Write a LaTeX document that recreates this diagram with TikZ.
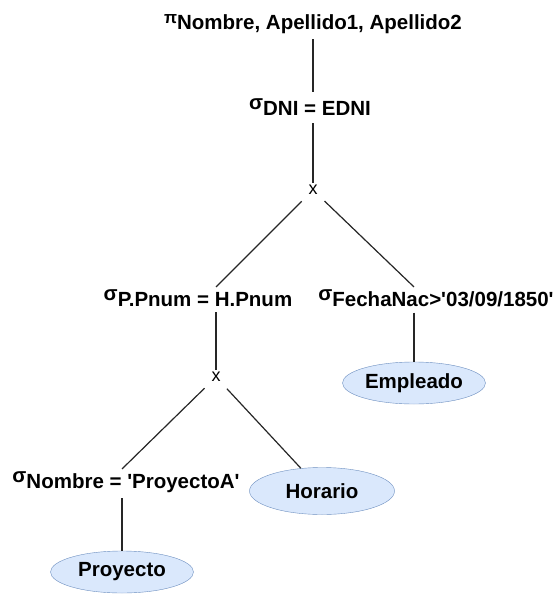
\documentclass[tikz,border=0pt]{standalone}
\usepackage{fontspec}
\setmainfont{Liberation Sans}
\usepackage{tikz}
\usetikzlibrary{positioning, calc, shapes.geometric}
\definecolor{relfill}{HTML}{DAE8FC}
\definecolor{relline}{HTML}{6C8EBF}
\newcommand{\sel}[1]{\raisebox{6pt}{σ}#1}
\newcommand{\prj}[1]{\raisebox{6pt}{\fontsize{17}{17}\selectfont π}#1}

\begin{document}
\begin{tikzpicture}[
    x=1pt, y=-1pt,
    every node/.style={font=\fontsize{20.5}{24}\selectfont\bfseries, inner sep=2pt, anchor=base},
    rel/.style={draw=relline, fill=relfill, ellipse, anchor=center, inner sep=0pt, minimum width=143pt, minimum height=42pt},
    cross/.style={font=\fontsize{18}{20}\selectfont, anchor=center},
    edge/.style={line width=1.2pt, draw=black!85}
]
\useasboundingbox (0,0) rectangle (557,594);
\node (proj) at (313,30) {\prj{Nombre, Apellido1, Apellido2}};
\node (seldni) at (310,115) {\sel{DNI = EDNI}};
\node[cross] (prodtop) at (313,190) {x};
\node (selpnum) at (198,306) {\sel{P.Pnum = H.Pnum}};
\node (selfecha) at (436,306) {\sel{FechaNac>\textquotesingle03/09/1850\textquotesingle}};
\node[cross] (prodlow) at (216,377) {x};
\node[rel] (emp) at (414,383) {Empleado};
\node (selnombre) at (126,488) {\sel{Nombre = \textquotesingle ProyectoA\textquotesingle}};
\node[rel, minimum width=145pt, minimum height=47pt] (horario) at (322,491) {Horario};
\node[rel] (proyecto) at (122,572) {Proyecto};
\draw[edge, shorten <=3pt, shorten >=4pt] (proj.south -| prodtop) -- (seldni.north -| prodtop);
\draw[edge, shorten <=6pt] (seldni.south -| prodtop) -- (prodtop);
\draw[edge, shorten <=16pt] (prodtop.center) -- (selpnum.north -| prodlow);
\draw[edge, shorten <=16pt] (prodtop.center) -- (selfecha.north -| emp);
\draw[edge, shorten <=4pt] (selpnum.south -| prodlow) -- (prodlow);
\draw[edge, shorten <=4pt] (selfecha.south -| emp) -- (emp);
\draw[edge, shorten <=16pt] (prodlow.center) -- (selnombre.north -| proyecto);
\draw[edge, shorten <=16pt] (prodlow.center) -- (horario);
\draw[edge, shorten <=4pt] (selnombre.south -| proyecto) -- (proyecto);
\end{tikzpicture}
\end{document}
